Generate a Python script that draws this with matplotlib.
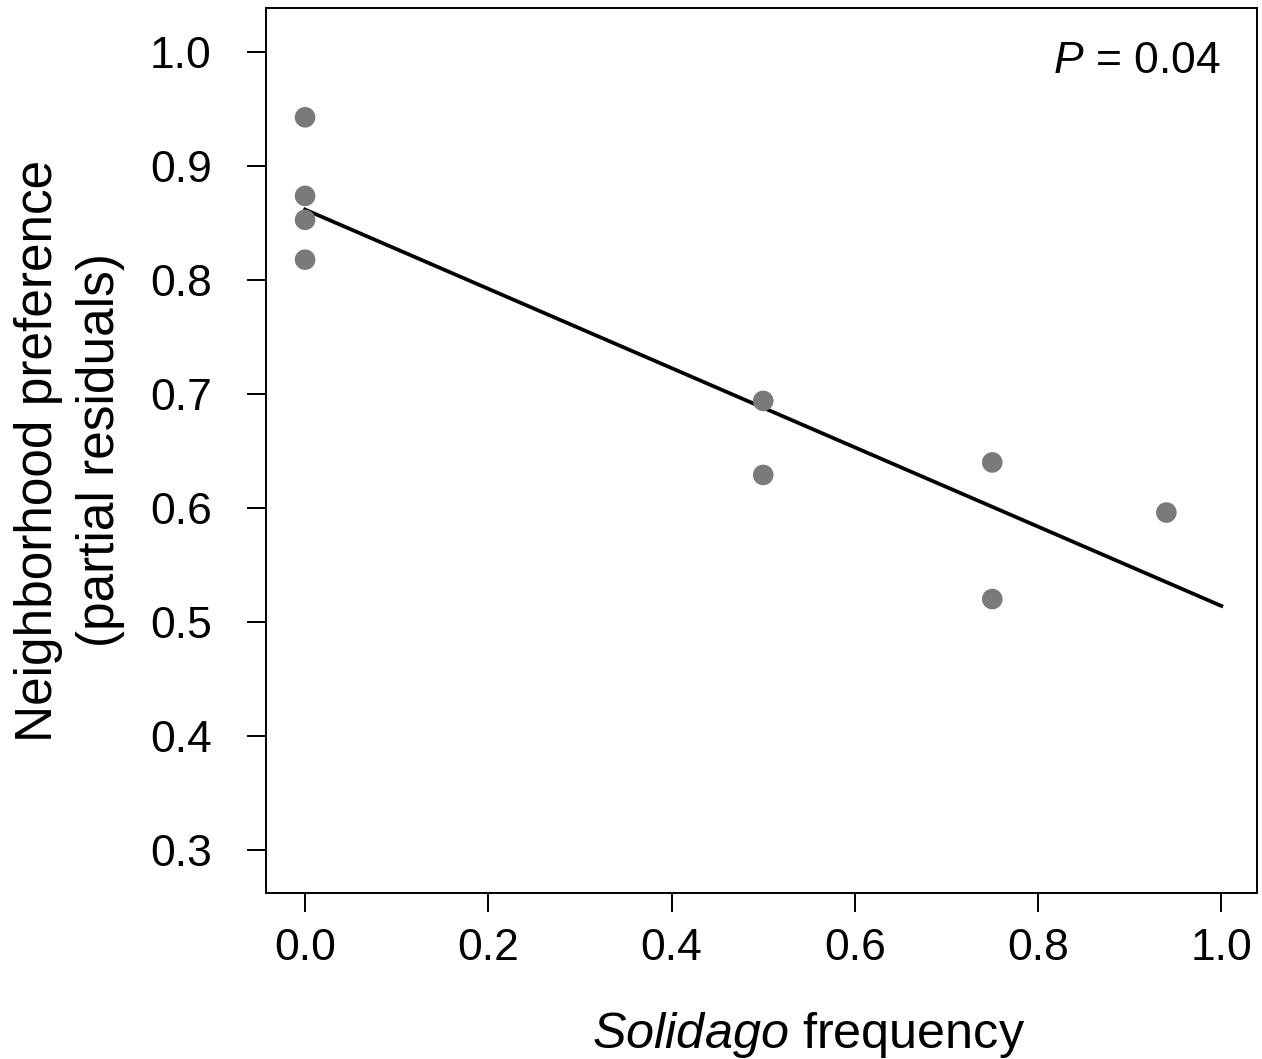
import matplotlib.pyplot as plt
import numpy as np

plt.rcParams['font.family'] = ['Liberation Sans', 'DejaVu Sans']
plt.rcParams['mathtext.fontset'] = 'custom'
plt.rcParams['mathtext.rm'] = 'Liberation Sans'
plt.rcParams['mathtext.it'] = 'Liberation Sans:italic'

# data
freq = [0.0, 0.0, 0.0, 0.0, 0.5, 0.5, 0.75, 0.75, 0.94]
pref = [0.943, 0.874, 0.853, 0.818, 0.694, 0.629, 0.640, 0.520, 0.596]
fit_x = [0.0, 1.0]
fit_y = [0.862, 0.514]
xticks = [0.0, 0.2, 0.4, 0.6, 0.8, 1.0]
yticks = [0.3, 0.4, 0.5, 0.6, 0.7, 0.8, 0.9, 1.0]

fig = plt.figure(figsize=(12.62, 10.59), dpi=100)
ax = fig.add_axes([0.2108, 0.1568, 0.7853, 0.8357])

ax.scatter(freq, pref, s=220, color='#7a7a7a', edgecolors='none', zorder=3)
ax.plot(fit_x, fit_y, color='black', linewidth=2.7, zorder=2)

ax.set_xlim(-0.0426, 1.039)
ax.set_ylim(0.262, 1.039)
ax.set_xticks(xticks)
ax.set_xticklabels([f'{v:.1f}' for v in xticks])
ax.set_yticks(yticks)
ax.set_yticklabels([f'{v:.1f}' for v in yticks])
ax.tick_params(direction='out', length=13.5, width=1.4, labelsize=32, pad=12)
ax.tick_params(axis='y', pad=25.5)
for sp in ax.spines.values():
    sp.set_linewidth(1.4)

ax.text(0.963, 0.94, r'$\it{P}$ = 0.04', transform=ax.transAxes,
        ha='right', va='center', fontsize=32)

ax.set_ylabel('Neighborhood preference\n(partial residuals)', fontsize=37,
              linespacing=1.35, labelpad=18)
fig.text(0.641, 0.0105, r'$\it{Solidago}$ frequency', fontsize=36.3,
         ha='center', va='baseline')

plt.savefig('out.png', dpi=100)
